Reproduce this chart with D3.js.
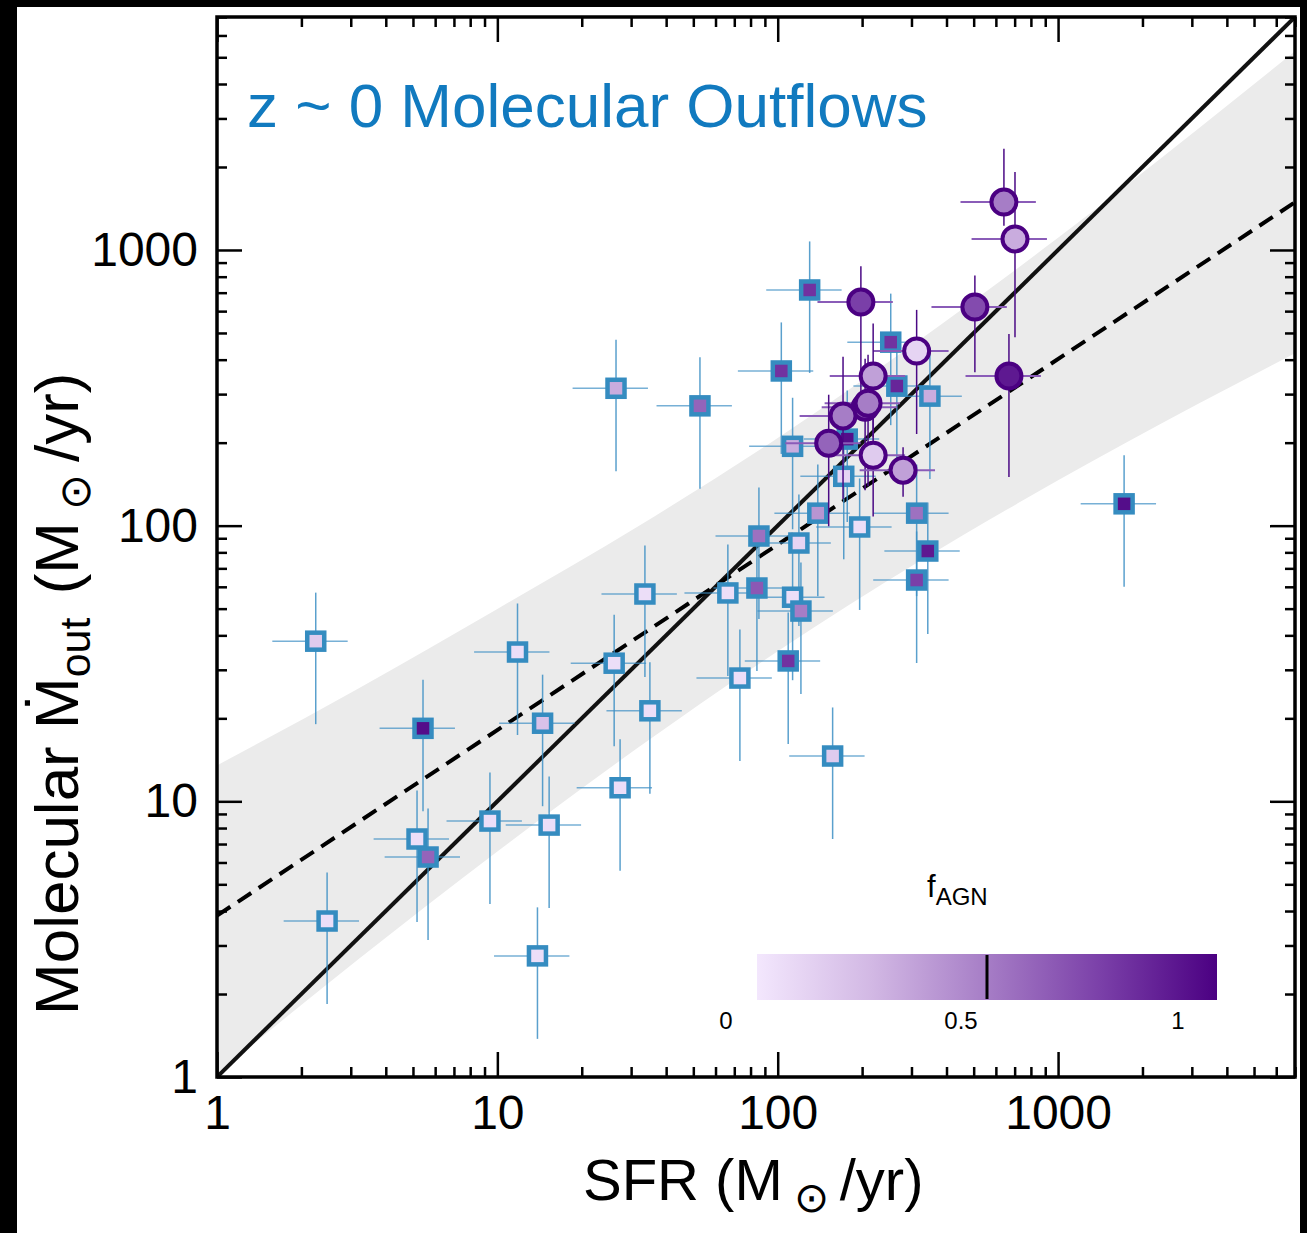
<!DOCTYPE html>
<html><head><meta charset="utf-8">
<script src="https://cdn.jsdelivr.net/npm/d3@7"></script>
<style>
body{margin:0;background:#000;}
svg{display:block;font-family:"Liberation Sans",Arial,Helvetica,sans-serif;}
</style>
</head><body>
<svg id="c" width="1307" height="1233"></svg>
<script>
// ---------------- data ----------------
// squares (blue-edged)
const sqSFR  = [2.25, 5.43, 11.8, 14.5, 26.1, 33.6, 35.0, 5.17, 5.66, 2.47, 9.41, 15.3, 13.9, 27.4, 26.5, 52.8, 103, 113, 130, 253, 177, 266, 349, 172, 139, 196, 313, 343, 313, 85.7, 119, 66.4, 84.3, 113, 121, 109, 73.3, 157, 1720];
const sqMout = [38.1, 18.4, 34.8, 19.2, 31.7, 56.5, 21.3, 7.3, 6.28, 3.68, 8.48, 8.2, 2.75, 11.2, 315, 272, 364, 194, 716, 463, 206, 321, 295, 151, 111, 98.9, 111, 80.9, 63.5, 91.7, 86.5, 57, 59.4, 55, 49, 32.3, 28, 14.6, 120];
const sqFagn = [0.15, 0.95, 0.05, 0.2, 0.05, 0.05, 0.05, 0.05, 0.6, 0.05, 0.05, 0.05, 0.05, 0.05, 0.3, 0.6, 0.8, 0.3, 0.8, 0.8, 0.95, 0.85, 0.3, 0.1, 0.4, 0.05, 0.55, 0.9, 0.75, 0.55, 0.1, 0.05, 0.65, 0.05, 0.5, 0.8, 0.05, 0.15, 0.95];
const sqSFRErr  = [0.3,0.3,0.3,0.3,0.3,0.3,0.3,0.3,0.3,0.3,0.3,0.3,0.3,0.3,0.3,0.3,0.3,0.3,0.3,0.3,0.3,0.3,0.3,0.3,0.3,0.3,0.3,0.3,0.3,0.3,0.3,0.3,0.3,0.3,0.3,0.3,0.3,0.3,0.3];
const sqMoutErr = [0.5,0.5,0.5,0.5,0.5,0.5,0.5,0.5,0.5,0.5,0.5,0.5,0.5,0.5,0.5,0.5,0.5,0.5,0.5,0.5,0.5,0.5,0.5,0.5,0.5,0.5,0.5,0.5,0.5,0.5,0.5,0.5,0.5,0.5,0.5,0.5,0.5,0.5,0.5];

// circles (purple-edged)
const ciSFR  = [641, 702, 198, 505, 313, 668, 219, 205, 210, 171, 152, 219, 280];
const ciMout = [1492, 1097, 647, 621, 430, 349, 349, 269, 278, 250, 199, 180, 159];
const ciFagn = [0.5, 0.3, 0.75, 0.7, 0.1, 0.9, 0.35, 0.65, 0.5, 0.5, 0.6, 0.15, 0.35];
const ciSFRErr    = [0.3,0.3,0.3,0.3,0.3,0.3,0.3,0.3,0.3,0.3,0.3,0.3,0.3];
const ciMoutErrLo = [0.18, 0.56, 0.6, 0.42, 0.5, 0.57, 0.4, 0.5, 0.5, 0.5, 0.5, 0.4, 0.2];
const ciMoutErrHi = [0.56, 0.75, 0.35, 0.3, 0.41, 0.42, 0.55, 0.5, 0.5, 0.64, 0.5, 0.4, 0.21];

// lines
const oneToOneSFR = [1, 7000];
const oneToOneMout = [1, 7000];
const fitSFR  = [1, 7000];
const fitMout = [3.85, 1490];
// shaded band
const bandSFR   = [1, 3.16, 10, 31.6, 100, 316, 1000, 3162, 7000];
const bandUpper = [13.5, 25.5, 49.9, 99.1, 208, 467, 1107, 2754, 5260];
const bandLower = [1.03, 2.65, 6.58, 15.6, 35, 73.6, 146, 277, 422];

// axes
const axisDomain = [1, 7000];
const majorTicks = [1, 10, 100, 1000];
const majorLabels = ["1", "10", "100", "1000"];
const minorTicks = [2,3,4,5,6,7,8,9,20,30,40,50,60,70,80,90,200,300,400,500,600,700,800,900,2000,3000,4000,5000,6000,7000];

// colorbar
const cbStops = [0, 0.25, 0.5, 0.75, 1];
const cbColors = ["#f3e7fd", "#d2b8e4", "#a67dc6", "#7a3fa8", "#4b0082"];
const cbTickValues = [0, 0.5, 1];
const cbTickLabels = ["0", "0.5", "1"];
const cbMarker = 0.5;

// ---------------- drawing ----------------
const svg = d3.select("#c");
svg.append("rect").attr("x",17).attr("y",7).attr("width",1283).attr("height",1226).attr("fill","#fff");

const L=217, R=1295, T=17, B=1077;
const x = d3.scaleLog().domain(axisDomain).range([L, R]);
const y = d3.scaleLog().domain(axisDomain).range([B, T]);
const color = d3.scaleLinear().domain(cbStops).range(cbColors).interpolate(d3.interpolateRgb);

svg.append("clipPath").attr("id","clip").append("rect")
  .attr("x",L).attr("y",T).attr("width",R-L).attr("height",B-T);
const plot = svg.append("g").attr("clip-path","url(#clip)");

// band
const bandData = bandSFR.map((s,i)=>({s, u:bandUpper[i], l:bandLower[i]}));
plot.append("path").datum(bandData)
  .attr("fill","#ebebeb")
  .attr("d", d3.area().x(d=>x(d.s)).y0(d=>y(d.l)).y1(d=>y(d.u)).curve(d3.curveMonotoneX));

// lines
const line = d3.line().x(d=>x(d[0])).y(d=>y(d[1]));
plot.append("path").datum(oneToOneSFR.map((s,i)=>[s, oneToOneMout[i]]))
  .attr("d", line).attr("stroke","#111").attr("stroke-width",4).attr("fill","none");
plot.append("path").datum(fitSFR.map((s,i)=>[s, fitMout[i]]))
  .attr("d", line).attr("stroke","#000").attr("stroke-width",4).attr("fill","none")
  .attr("stroke-dasharray","16,9");

// squares
const sq = sqSFR.map((s,i)=>({s, m:sqMout[i], f:sqFagn[i], xe:sqSFRErr[i], ye:sqMoutErr[i]}));
const sqErr = plot.append("g");
sq.forEach(d=>{
  sqErr.append("line").attr("x1",x(d.s*(1-d.xe))).attr("x2",x(d.s*(1+d.xe))).attr("y1",y(d.m)).attr("y2",y(d.m))
    .attr("stroke","#3d8fc4").attr("stroke-width",1.5).attr("stroke-opacity",0.7);
  sqErr.append("line").attr("x1",x(d.s)).attr("x2",x(d.s)).attr("y1",y(d.m*(1-d.ye))).attr("y2",y(d.m*(1+d.ye)))
    .attr("stroke","#3d8fc4").attr("stroke-width",1.5).attr("stroke-opacity",0.85);
});
plot.append("g").selectAll("rect").data(sq).join("rect")
  .attr("x",d=>x(d.s)-8.5).attr("y",d=>y(d.m)-8.5).attr("width",17).attr("height",17)
  .attr("fill",d=>color(d.f)).attr("stroke","#358cc0").attr("stroke-width",4.5);

// circles
const ci = ciSFR.map((s,i)=>({s, m:ciMout[i], f:ciFagn[i], xe:ciSFRErr[i], lo:ciMoutErrLo[i], hi:ciMoutErrHi[i]}));
const ciErr = plot.append("g");
ci.forEach(d=>{
  ciErr.append("line").attr("x1",x(d.s*(1-d.xe))).attr("x2",x(d.s*(1+d.xe))).attr("y1",y(d.m)).attr("y2",y(d.m))
    .attr("stroke","#8a5cb8").attr("stroke-width",2);
  ciErr.append("line").attr("x1",x(d.s)).attr("x2",x(d.s)).attr("y1",y(d.m*(1-d.lo))).attr("y2",y(d.m*(1+d.hi)))
    .attr("stroke","#4b0a85").attr("stroke-width",1.5);
});
plot.append("g").selectAll("circle").data(ci).join("circle")
  .attr("cx",d=>x(d.s)).attr("cy",d=>y(d.m)).attr("r",12.5)
  .attr("fill",d=>color(d.f)).attr("stroke","#4b0082").attr("stroke-width",4);

// title
svg.append("text").attr("x",247).attr("y",127).attr("font-size",62).attr("fill","#117abf")
  .text("z ~ 0 Molecular Outflows");

// colorbar
const cbx = d3.scaleLinear().domain([0,1]).range([757,1217]);
const grad = svg.append("defs").append("linearGradient").attr("id","cbg");
cbStops.forEach((s,i)=>grad.append("stop").attr("offset",s).attr("stop-color",cbColors[i]));
svg.append("rect").attr("x",cbx(0)).attr("y",954).attr("width",cbx(1)-cbx(0)).attr("height",46).attr("fill","url(#cbg)");
svg.append("line").attr("x1",cbx(cbMarker)).attr("x2",cbx(cbMarker)).attr("y1",955).attr("y2",999)
  .attr("stroke","#000").attr("stroke-width",3);
const cbLabel = d3.scaleLinear().domain([0,0.5,1]).range([726,961,1178]);
svg.append("g").selectAll("text").data(cbTickValues).join("text")
  .attr("x",d=>cbLabel(d)).attr("y",1029).attr("text-anchor","middle").attr("font-size",24)
  .text((d,i)=>cbTickLabels[i]);
const fl = svg.append("text").attr("x",927).attr("y",897).attr("font-size",31);
fl.append("tspan").text("f");
fl.append("tspan").attr("font-size",24).attr("dy",8).text("AGN");

// axes (ticks inside)
function styleAxis(g){
  g.select(".domain").remove();
  g.selectAll(".tick line").attr("stroke","#000").attr("stroke-width",2.5);
}
svg.append("g").attr("transform",`translate(0,${B})`)
  .call(d3.axisBottom(x).tickValues(majorTicks).tickSize(-25).tickPadding(18).tickFormat((d,i)=>majorLabels[i]))
  .call(styleAxis).call(g=>g.selectAll("text").attr("font-size",48).attr("fill","#000").attr("font-family","Liberation Sans, Arial, sans-serif"));
svg.append("g").attr("transform",`translate(0,${B})`)
  .call(d3.axisBottom(x).tickValues(minorTicks).tickSize(-10).tickFormat(""))
  .call(styleAxis);
svg.append("g").attr("transform",`translate(0,${T})`)
  .call(d3.axisTop(x).tickValues(majorTicks).tickSize(-25).tickFormat(""))
  .call(styleAxis);
svg.append("g").attr("transform",`translate(0,${T})`)
  .call(d3.axisTop(x).tickValues(minorTicks).tickSize(-10).tickFormat(""))
  .call(styleAxis);
svg.append("g").attr("transform",`translate(${L},0)`)
  .call(d3.axisLeft(y).tickValues(majorTicks).tickSize(-25).tickPadding(19).tickFormat((d,i)=>majorLabels[i]))
  .call(styleAxis).call(g=>g.selectAll("text").attr("font-size",48).attr("fill","#000").attr("font-family","Liberation Sans, Arial, sans-serif"));
svg.append("g").attr("transform",`translate(${L},0)`)
  .call(d3.axisLeft(y).tickValues(minorTicks).tickSize(-10).tickFormat(""))
  .call(styleAxis);
svg.append("g").attr("transform",`translate(${R},0)`)
  .call(d3.axisRight(y).tickValues(majorTicks).tickSize(-25).tickFormat(""))
  .call(styleAxis);
svg.append("g").attr("transform",`translate(${R},0)`)
  .call(d3.axisRight(y).tickValues(minorTicks).tickSize(-10).tickFormat(""))
  .call(styleAxis);

// frame
svg.append("rect").attr("x",L).attr("y",T).attr("width",R-L).attr("height",B-T)
  .attr("fill","none").attr("stroke","#000").attr("stroke-width",3.5);

// axis titles
const xt = svg.append("text").attr("x",583).attr("y",1200).attr("font-size",58);
xt.append("tspan").text("SFR (M");
xt.append("tspan").attr("font-size",42).attr("dy",12).attr("dx",11).text("⊙");
xt.append("tspan").attr("dy",-12).attr("dx",11).text("/yr)");

const yt = svg.append("text").attr("transform","translate(78,1015) rotate(-90)").attr("font-size",62);
yt.append("tspan").text("Molecular Ṁ");
yt.append("tspan").attr("font-size",43).attr("dy",12).text("out");
yt.append("tspan").attr("dy",-12).attr("dx",6).text(" (M");
yt.append("tspan").attr("font-size",43).attr("dy",12).attr("dx",12).text("⊙");
yt.append("tspan").attr("dy",-12).attr("dx",12).text("/yr)");
</script>
</body></html>
